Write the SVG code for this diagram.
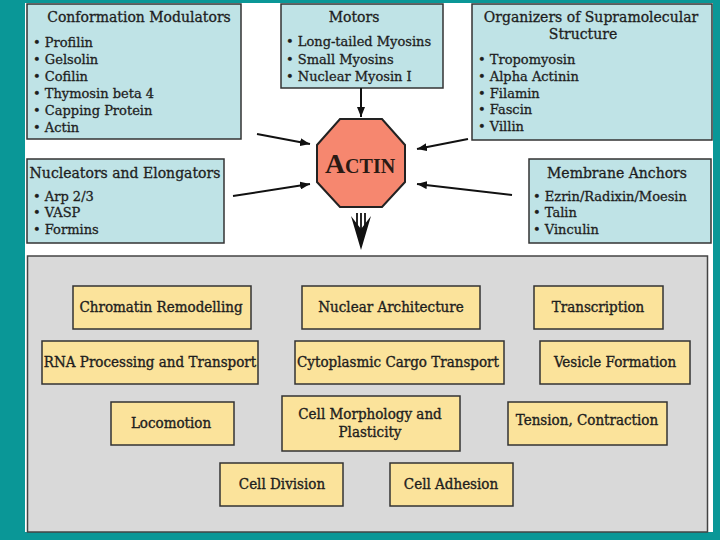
<svg xmlns="http://www.w3.org/2000/svg" width="720" height="540" viewBox="0 0 720 540">
<defs>
<style>
.bg{fill:#0a9797}
.panel{fill:#ffffff}
.blue{fill:#bfe3e6;stroke:#333;stroke-width:1.5}
.yel{fill:#fbe39b;stroke:#333;stroke-width:1.5}
.gray{fill:#d9d9d9;stroke:#444;stroke-width:1.5}
.t{font-family:"DejaVu Serif","Liberation Serif",serif;fill:#1e1e1e;stroke:#1e1e1e;stroke-width:0.3;font-size:13px}
.h{font-family:"DejaVu Serif","Liberation Serif",serif;fill:#1e1e1e;stroke:#1e1e1e;stroke-width:0.3;font-size:14px}
.b{font-family:"DejaVu Serif Condensed","DejaVu Serif",serif;font-stretch:condensed;fill:#1e1e1e;stroke:#1e1e1e;stroke-width:0.35;font-size:15px;text-anchor:middle}
.c{text-anchor:middle}
.ln{stroke:#111;stroke-width:2;fill:none;marker-end:url(#ah)}
</style>
<marker id="ah" viewBox="0 0 10 8" refX="10" refY="4" markerWidth="10" markerHeight="8" markerUnits="userSpaceOnUse" orient="auto">
<path d="M0,0 L10,4 L0,8 Z" fill="#111"/>
</marker>
</defs>
<rect class="bg" x="0" y="0" width="720" height="540"/>
<rect class="panel" x="25" y="3" width="688" height="529"/>

<g id="conformation-modulators">
<rect class="blue" x="27" y="4" width="214" height="135"/>
<text class="h c" x="139" y="22">Conformation Modulators</text>
<text class="t" x="33" y="47">• Profilin</text>
<text class="t" x="33" y="64">• Gelsolin</text>
<text class="t" x="33" y="81">• Cofilin</text>
<text class="t" x="33" y="98">• Thymosin beta 4</text>
<text class="t" x="33" y="115">• Capping Protein</text>
<text class="t" x="33" y="132">• Actin</text>
</g>

<g id="motors">
<rect class="blue" x="281" y="4" width="162" height="84"/>
<text class="h c" x="354" y="22">Motors</text>
<text class="t" x="286" y="46">• Long-tailed Myosins</text>
<text class="t" x="286" y="64">• Small Myosins</text>
<text class="t" x="286" y="81">• Nuclear Myosin I</text>
</g>

<g id="organizers">
<rect class="blue" x="472" y="4" width="240" height="136"/>
<text class="h c" x="591" y="22">Organizers of Supramolecular</text>
<text class="h c" x="583" y="39">Structure</text>
<text class="t" x="478" y="64">• Tropomyosin</text>
<text class="t" x="478" y="81">• Alpha Actinin</text>
<text class="t" x="478" y="98">• Filamin</text>
<text class="t" x="478" y="114">• Fascin</text>
<text class="t" x="478" y="131">• Villin</text>
</g>

<g id="nucleators">
<rect class="blue" x="27" y="159" width="197" height="84"/>
<text class="h c" x="125" y="178">Nucleators and Elongators</text>
<text class="t" x="33" y="201">• Arp 2/3</text>
<text class="t" x="33" y="217">• VASP</text>
<text class="t" x="33" y="234">• Formins</text>
</g>

<g id="membrane-anchors">
<rect class="blue" x="529" y="159" width="182" height="84"/>
<text class="h c" x="617" y="178">Membrane Anchors</text>
<text class="t" x="533" y="201">• Ezrin/Radixin/Moesin</text>
<text class="t" x="533" y="217">• Talin</text>
<text class="t" x="533" y="234">• Vinculin</text>
</g>

<g id="actin">
<polygon points="340,119 382,119 405,145 405,182 382,207 340,207 317,182 317,145" fill="#f6876f" stroke="#222" stroke-width="2"/>
<text x="360" y="173" text-anchor="middle" font-family="Liberation Serif,serif" font-weight="bold" fill="#2a1a14"><tspan font-size="28">A</tspan><tspan font-size="20">CTIN</tspan></text>
</g>

<g id="connectors">
<line class="ln" x1="361" y1="88" x2="361" y2="117"/>
<line class="ln" x1="257" y1="134" x2="310" y2="144"/>
<line class="ln" x1="233" y1="196" x2="310" y2="184"/>
<line class="ln" x1="468" y1="139" x2="417" y2="149"/>
<line class="ln" x1="512" y1="195" x2="417" y2="184"/>
<g stroke="#111" stroke-width="1.8">
<line x1="357" y1="213" x2="357" y2="232"/>
<line x1="361" y1="213" x2="361" y2="232"/>
<line x1="365" y1="213" x2="365" y2="232"/>
</g>
<path d="M351,216 L361,229 L371,216 L361,250 Z" fill="#111"/>
</g>

<g id="functions-panel">
<rect class="gray" x="27.5" y="256" width="680" height="276"/>
</g>

<g id="chromatin-remodelling"><rect class="yel" x="73" y="286" width="178" height="43"/><text class="b" x="161" y="312">Chromatin Remodelling</text></g>
<g id="nuclear-architecture"><rect class="yel" x="302" y="286" width="178" height="43"/><text class="b" x="391" y="312">Nuclear Architecture</text></g>
<g id="transcription"><rect class="yel" x="534" y="286" width="129" height="43"/><text class="b" x="598" y="312">Transcription</text></g>
<g id="rna-processing"><rect class="yel" x="42" y="341" width="216" height="43"/><text class="b" x="150" y="367">RNA Processing and Transport</text></g>
<g id="cytoplasmic-cargo"><rect class="yel" x="295" y="341" width="209" height="43"/><text class="b" x="398" y="367">Cytoplasmic Cargo Transport</text></g>
<g id="vesicle-formation"><rect class="yel" x="540" y="341" width="150" height="43"/><text class="b" x="615" y="367">Vesicle Formation</text></g>
<g id="locomotion"><rect class="yel" x="111" y="402" width="123" height="43"/><text class="b" x="171" y="428">Locomotion</text></g>
<g id="cell-morphology"><rect class="yel" x="282" y="396" width="178" height="55"/><text class="b" x="370" y="419">Cell Morphology and</text><text class="b" x="370" y="437">Plasticity</text></g>
<g id="tension-contraction"><rect class="yel" x="508" y="402" width="159" height="43"/><text class="b" x="587" y="425">Tension, Contraction</text></g>
<g id="cell-division"><rect class="yel" x="220" y="463" width="123" height="43"/><text class="b" x="282" y="489">Cell Division</text></g>
<g id="cell-adhesion"><rect class="yel" x="390" y="463" width="123" height="43"/><text class="b" x="451" y="489">Cell Adhesion</text></g>
</svg>
